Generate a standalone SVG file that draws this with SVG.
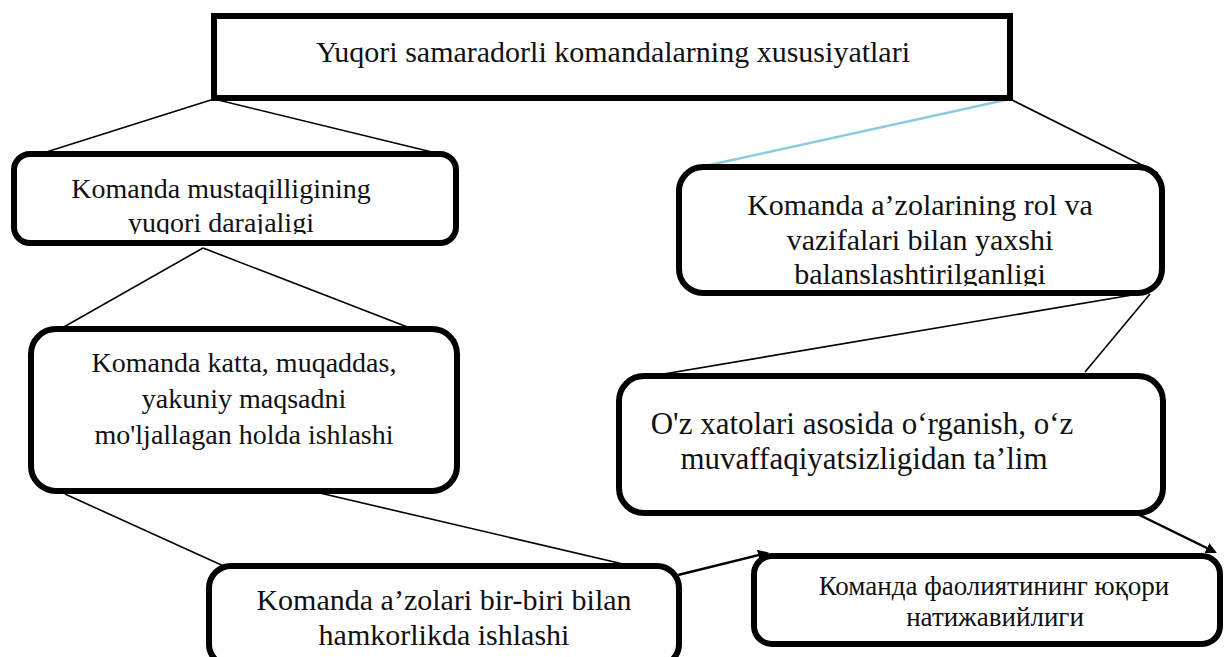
<svg xmlns="http://www.w3.org/2000/svg" width="1224" height="657" viewBox="0 0 1224 657">
<style>
.box{fill:#fff;stroke:#000;stroke-width:6}
.t{font-family:"Liberation Serif",serif;font-size:28px;fill:#111;text-anchor:middle}
.tr{font-family:"Liberation Serif",serif;font-size:27px;fill:#111;text-anchor:middle}
.c{stroke:#000;stroke-width:1.6;fill:none}
.ca{stroke:#000;stroke-width:2.5;fill:none;marker-end:url(#ah)}
</style>
<defs>
<marker id="ah" markerWidth="11" markerHeight="11" refX="9" refY="5.5" orient="auto" markerUnits="userSpaceOnUse">
<path d="M0,0 L11,5.5 L0,11 z" fill="#000"/>
</marker>
<clipPath id="cA"><rect x="12" y="152" width="446" height="82"/></clipPath>
<clipPath id="cB"><rect x="677" y="165" width="487" height="121"/></clipPath>
</defs>
<g id="connectors">
<line class="c" x1="214" y1="99" x2="40" y2="154"/>
<line class="c" x1="214" y1="99" x2="440" y2="154"/>
<line x1="1010" y1="99" x2="705" y2="166" stroke="#8ccbdc" stroke-width="2.5"/>
<line class="c" x1="1010" y1="99" x2="1158" y2="173"/>
<line class="c" x1="203" y1="248" x2="62" y2="328"/>
<line class="c" x1="203" y1="248" x2="410" y2="328"/>
<line class="c" x1="1150" y1="292" x2="640" y2="378"/>
<line class="c" x1="1150" y1="294" x2="1085" y2="372"/>
<line class="c" x1="65" y1="494" x2="228" y2="568"/>
<line class="c" x1="290" y1="486" x2="670" y2="575"/>
<line class="ca" x1="678" y1="575" x2="767" y2="553"/>
<line class="ca" x1="1123" y1="507" x2="1215" y2="552"/>
</g>
<g id="top">
<rect class="box" x="214" y="16" width="796" height="82"/>
<text class="t" x="613" y="62" style="font-size:30px">Yuqori samaradorli komandalarning xususiyatlari</text>
</g>
<g id="nodeA">
<rect class="box" x="14" y="154" width="442" height="89" rx="16"/>
<text class="t" x="221" y="198">Komanda mustaqilligining</text>
<text class="t" x="221" y="232" clip-path="url(#cA)">yuqori darajaligi</text>
</g>
<g id="nodeB">
<rect class="box" x="679" y="167" width="483" height="126" rx="24"/>
<text class="t" x="920" y="215" style="font-size:30px">Komanda a’zolarining rol va</text>
<text class="t" x="920" y="250" style="font-size:30px">vazifalari bilan yaxshi</text>
<text class="t" x="920" y="284" style="font-size:30px" clip-path="url(#cB)">balanslashtirilganligi</text>
</g>
<g id="nodeC">
<rect class="box" x="31" y="329" width="426" height="162" rx="25"/>
<text class="t" x="244" y="372">Komanda katta, muqaddas,</text>
<text class="t" x="244" y="408">yakuniy maqsadni</text>
<text class="t" x="244" y="444">mo'ljallagan holda ishlashi</text>
</g>
<g id="nodeD">
<rect class="box" x="619" y="376" width="544" height="137" rx="25"/>
<text class="t" x="862" y="434" style="font-size:31px">O'z xatolari asosida oʻrganish, oʻz</text>
<text class="t" x="864" y="469" style="font-size:31px">muvaffaqiyatsizligidan ta’lim</text>
</g>
<g id="nodeE">
<rect class="box" x="209" y="566" width="470" height="100" rx="22"/>
<text class="t" x="444" y="610" style="font-size:30px">Komanda a’zolari bir-biri bilan</text>
<text class="t" x="444" y="645" style="font-size:30px">hamkorlikda ishlashi</text>
</g>
<g id="nodeF">
<rect class="box" x="754" y="556" width="466" height="88" rx="18"/>
<text class="tr" x="994" y="595">Команда фаолиятининг юқори</text>
<text class="tr" x="995" y="626">натижавийлиги</text>
</g>
</svg>
